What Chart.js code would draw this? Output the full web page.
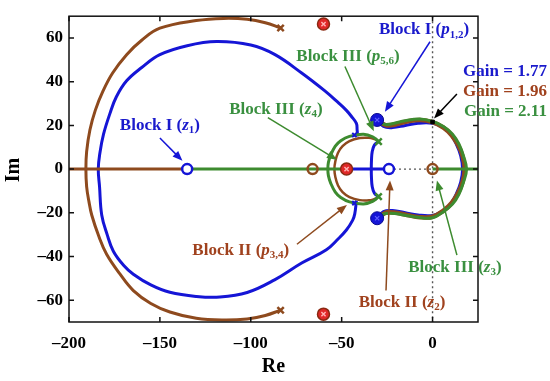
<!DOCTYPE html>
<html>
<head>
<meta charset="utf-8">
<script src="https://cdn.jsdelivr.net/npm/chart.js@4.4.0/dist/chart.umd.min.js"></script>
<style>
  html, body { margin: 0; padding: 0; background: #fff; }
</style>
</head>
<body>
<canvas id="rlocus" width="550" height="381"></canvas>
<script>
// axis ticks
var xTicks = [-200, -150, -100, -50, 0];
var yTicks = [-60, -40, -20, 0, 20, 40, 60];

// Gain = 1.77 (blue)
var blueLoop = [[-41.2,15],[-41.5,18],[-41.9,20.9],[-44.7,24.2],[-47.4,26.9],[-52,30.5],[-59.4,35.9],[-72,44],[-86.9,52.5],[-100,56.8],[-118.8,58.4],[-135,56.5],[-150,52.4],[-160,46.5],[-168.3,40.4],[-174,33],[-177.5,25.4],[-181,16],[-183,7.4],[-183.9,0],
  [-183.2,-8],[-182,-21],[-179,-30],[-175.6,-37.6],[-170,-44],[-164.6,-48.1],[-155,-53],[-144.5,-56.4],[-130,-58.3],[-117,-58.6],[-102,-56.5],[-86.9,-50.7],[-72,-43],[-58.4,-36.9],[-52,-32],[-47.4,-27.9],[-44,-23.5],[-42.8,-20.5],[-41.9,-14.5]];
var blueInner = [[-29.7,12.6],[-32,11],[-33.2,8],[-33.6,4],[-33.7,0],[-33.6,-4],[-33.2,-8],[-32,-11],[-29.7,-12.6]];
var blueAxis = [[-47.3,0],[-24,0]];
var blueRight = [[-30.5,22.5],[-27,19.5],[-22,19],[-15,20],[-8,21],[0,21],[5,19.5],[9.5,16.5],[13,11.5],[15.5,6],[16.5,0],
  [15.5,-6],[13,-11.5],[9.5,-16.5],[5,-19.5],[0,-21.2],[-8,-21],[-15,-20],[-22,-19],[-27,-19.5],[-30.5,-22.5]];

// Gain = 1.96 (brown)
var brownOuter = [[-83.6,64.6],[-92,67],[-102,68.6],[-115,69],[-130,68],[-150,64.5],[-160,59],[-168.3,52.4],[-176,44],[-181.2,35.9],[-185.5,27],[-188.5,17.9],[-190.3,8],[-190.7,0],
  [-190.3,-8],[-189,-15],[-187.5,-21],[-183.5,-31],[-179.3,-39],[-172,-48],[-164.6,-55.6],[-155,-61.5],[-144.5,-65.4],[-130,-68.3],[-115,-69.1],[-102,-68.6],[-92,-67],[-83.6,-64.6]];
var brownInner = [[-31,13.5],[-35,14.3],[-40,14.2],[-45.7,12.8],[-49.5,10.5],[-52,7.5],[-53.5,3.5],[-54,0],[-53.5,-3.5],[-52,-7.5],[-49.5,-10.5],[-45.7,-12.8],[-40,-14.2],[-35,-14.3],[-31,-13.5]];
var brownAxis = [[-200,0],[-135,0]];
var brownRight = [[-28,21],[-25,20],[-20,20.5],[-14,21.8],[-7,22.5],[0,21.5],[6,19],[10.5,15.5],[14,11],[16.5,6],[17.7,0],
  [16.5,-6],[14,-11],[10.5,-15.5],[6,-19],[0,-21.8],[-7,-22],[-14,-21],[-20,-20],[-25,-19.8],[-28,-21]];

// Gain = 2.11 (green)
var greenInner = [[-29.7,12.6],[-33,14.8],[-38,16],[-45.7,15],[-50.5,13],[-53.5,10.5],[-56,6.5],[-57.3,3],[-57.6,0],[-57.3,-3],[-56,-6.5],[-53.5,-10.5],[-50.5,-13],[-45.7,-15],[-38,-16],[-33,-14.8],[-29.7,-12.6]];
var greenAxisA = [[-135,0],[-47.3,0]];
var greenAxisB = [[0,0],[25,0]];
var greenRight = [[-28,21],[-25.5,20.4],[-21,21],[-16,22],[-7,22.9],[0,21.8],[6,19.5],[11,16],[14.5,11.5],[17,6],[18.7,0],
  [17,-6],[14.5,-11.5],[11,-16],[6,-19.5],[0,-22.3],[-7,-22.2],[-16,-21],[-21,-20.3],[-25.5,-20.3],[-28,-21]];

// poles and zeros
var blueZeros = [[-135,0],[-24,0]];
var bluePoles = [[-30.5,22.5],[-30.5,-22.5]];
var bluePolesSmall = [[-43,15.6],[-43,-15.6]];
var brownZeros = [[-66,0],[0,0]];
var brownPoles = [[-83.6,64.6],[-83.6,-64.6]];
var redPoints = [[-47.3,0],[-60,66.4],[-60,-66.4]];
var greenPoles = [[-29.7,12.6],[-29.7,-12.6]];
var gainPoint = [[0,21.6]];

var BLUE = '#1515D6', BROWN = '#8E4A1E', GREEN = '#3D8B2F';
var BLUE_T = '#1a1acc', BROWN_T = '#a0421e', GREEN_T = '#3a9040';
var SERIF = '"Liberation Serif", "Times New Roman", serif';

function pts(a) { return a.map(function (p) { return { x: p[0], y: p[1] }; }); }

function curve(arr, color, width, order) {
  return { data: pts(arr), showLine: true, borderColor: color, borderWidth: width,
    pointRadius: 0, tension: 0.4, fill: false, order: order };
}
function marks(arr, style, r, fillC, lineC, width, order) {
  return { data: pts(arr), showLine: false, pointStyle: style, pointRadius: r,
    backgroundColor: fillC, borderColor: lineC, pointBorderWidth: width, order: order };
}

// annotations
var notes = [
  { runs: [['Block I (','n'],['z','i'],['1','s'],[')','n']], at: [-150,20], color: BLUE_T, arrow: [-150,14.2,-137.6,3.8], ac: BLUE },
  { runs: [['Block I (','n'],['p','i'],['1,2','s'],[')','n']], at: [-4.7,63.7], color: BLUE_T, arrow: [-1.4,58.3,-26.2,26.3], ac: BLUE },
  { runs: [['Block III (','n'],['p','i'],['5,6','s'],[')','n']], at: [-46.5,51.5], color: GREEN_T, arrow: [-48.2,47,-32.3,17.3], ac: GREEN },
  { runs: [['Block III (','n'],['z','i'],['4','s'],[')','n']], at: [-86.2,27.2], color: GREEN_T, arrow: [-90.6,23.6,-52.6,4.3], ac: GREEN },
  { runs: [['Block II (','n'],['p','i'],['3,4','s'],[')','n']], at: [-105.5,-37.1], color: BROWN_T, arrow: [-74.6,-34.4,-47.1,-16.4], ac: BROWN },
  { runs: [['Block II (','n'],['z','i'],['2','s'],[')','n']], at: [-16.8,-61], color: BROWN_T, arrow: [-25.6,-55.6,-23.4,-5.2], ac: BROWN },
  { runs: [['Block III (','n'],['z','i'],['3','s'],[')','n']], at: [12.3,-45.2], color: GREEN_T, arrow: [13.4,-39.4,2.4,-5.2], ac: GREEN },
  { runs: [['Gain = 1.77','n']], at: [62.9,44.8], align: 'right', color: BLUE_T },
  { runs: [['Gain = 1.96','n']], at: [62.9,35.3], align: 'right', color: BROWN_T },
  { runs: [['Gain = 2.11','n']], at: [62.9,26.3], align: 'right', color: GREEN_T, arrow: [13.4,34.4,0.8,23.2], ac: '#000' }
];

function fontFor(kind, size) {
  if (kind === 'i') return 'italic bold ' + size + 'px ' + SERIF;
  if (kind === 's') return 'bold ' + Math.round(size * 0.65) + 'px ' + SERIF;
  return 'bold ' + size + 'px ' + SERIF;
}

function richText(ctx, runs, x, y, align, color, size) {
  var total = 0, widths = [];
  runs.forEach(function (r) { ctx.font = fontFor(r[1], size); var w = ctx.measureText(r[0]).width; widths.push(w); total += w; });
  var cx = align === 'right' ? x - total : x - total / 2;
  ctx.fillStyle = color;
  ctx.textBaseline = 'middle';
  ctx.textAlign = 'left';
  runs.forEach(function (r, i) {
    ctx.font = fontFor(r[1], size);
    ctx.fillText(r[0], cx, r[1] === 's' ? y + size * 0.28 : y);
    cx += widths[i];
  });
}

function arrow(ctx, x1, y1, x2, y2, color) {
  var ang = Math.atan2(y2 - y1, x2 - x1), hl = 10, hw = 4;
  ctx.strokeStyle = color; ctx.fillStyle = color; ctx.lineWidth = 1.5;
  ctx.beginPath();
  ctx.moveTo(x1, y1);
  ctx.lineTo(x2 - Math.cos(ang) * hl * 0.8, y2 - Math.sin(ang) * hl * 0.8);
  ctx.stroke();
  ctx.beginPath();
  ctx.moveTo(x2, y2);
  ctx.lineTo(x2 - Math.cos(ang) * hl + Math.sin(ang) * hw, y2 - Math.sin(ang) * hl - Math.cos(ang) * hw);
  ctx.lineTo(x2 - Math.cos(ang) * hl - Math.sin(ang) * hw, y2 - Math.sin(ang) * hl + Math.cos(ang) * hw);
  ctx.closePath();
  ctx.fill();
}

var deco = {
  id: 'deco',
  beforeDatasetsDraw: function (chart) {
    var ctx = chart.ctx, a = chart.chartArea, xs = chart.scales.x, ys = chart.scales.y;
    ctx.save();
    ctx.strokeStyle = '#555';
    ctx.lineWidth = 1.4;
    ctx.setLineDash([2, 3]);
    var x0 = xs.getPixelForValue(0), y0 = ys.getPixelForValue(0);
    ctx.beginPath(); ctx.moveTo(x0, a.top); ctx.lineTo(x0, a.bottom); ctx.stroke();
    ctx.beginPath(); ctx.moveTo(a.left, y0); ctx.lineTo(a.right, y0); ctx.stroke();
    ctx.restore();
  },
  afterDatasetsDraw: function (chart) {
    var ctx = chart.ctx, a = chart.chartArea, xs = chart.scales.x, ys = chart.scales.y;
    ctx.save();
    // frame and inward ticks
    ctx.strokeStyle = '#111';
    ctx.lineWidth = 1.5;
    ctx.strokeRect(a.left, a.top, a.right - a.left, a.bottom - a.top);
    ctx.beginPath();
    xTicks.forEach(function (v) {
      var px = xs.getPixelForValue(v);
      ctx.moveTo(px, a.bottom); ctx.lineTo(px, a.bottom - 5);
      ctx.moveTo(px, a.top); ctx.lineTo(px, a.top + 5);
    });
    yTicks.forEach(function (v) {
      var py = ys.getPixelForValue(v);
      ctx.moveTo(a.left, py); ctx.lineTo(a.left + 5, py);
      ctx.moveTo(a.right, py); ctx.lineTo(a.right - 5, py);
    });
    ctx.stroke();

    // annotations
    notes.forEach(function (n) {
      if (n.arrow) {
        arrow(ctx, xs.getPixelForValue(n.arrow[0]), ys.getPixelForValue(n.arrow[1]),
          xs.getPixelForValue(n.arrow[2]), ys.getPixelForValue(n.arrow[3]), n.ac);
      }
      richText(ctx, n.runs, xs.getPixelForValue(n.at[0]), ys.getPixelForValue(n.at[1]), n.align || 'center', n.color, 17);
    });

    // axis titles
    ctx.fillStyle = '#000';
    ctx.font = 'bold 20px ' + SERIF;
    ctx.textAlign = 'center';
    ctx.textBaseline = 'middle';
    ctx.fillText('Re', (a.left + a.right) / 2, 367);
    ctx.translate(14, (a.top + a.bottom) / 2 + 1);
    ctx.rotate(-Math.PI / 2);
    ctx.fillText('Im', 0, 0);
    ctx.restore();
  }
};

var tickFont = { family: SERIF, weight: 'bold', size: 17 };
function fmt(v) { return v < 0 ? '\u2013' + Math.abs(v) : '' + v; }

new Chart(document.getElementById('rlocus'), {
  type: 'scatter',
  data: {
    datasets: [
      marks(gainPoint, 'rect', 2.5, '#000', '#000', 1, 0),
      marks(redPoints, 'crossRot', 3, '#ffb0b0', '#ffb0b0', 1.5, 0),
      marks(redPoints, 'circle', 6, '#e02828', '#8a2a12', 1.5, 1),
      marks(blueZeros, 'circle', 5, '#fff', BLUE, 2.5, 1),
      marks(bluePoles, 'crossRot', 3, '#6060ff', '#6060ff', 1.2, 0),
      marks(bluePoles, 'circle', 6.5, BLUE, '#0a0a90', 1, 1),
      marks(bluePolesSmall, 'crossRot', 3, BLUE, BLUE, 2, 1),
      marks(brownZeros, 'circle', 5, 'rgba(255,255,255,0)', BROWN, 2.5, 1),
      marks(brownPoles, 'crossRot', 4.5, BROWN, BROWN, 2.5, 1),
      marks(greenPoles, 'crossRot', 4.5, GREEN, GREEN, 2.5, 1),
      curve(blueAxis, BLUE, 3, 3),
      curve(greenRight, GREEN, 3, 4),
      curve(brownRight, BROWN, 4.5, 5),
      curve(blueRight, BLUE, 3, 6),
      curve(greenInner, GREEN, 3, 4),
      curve(brownInner, BROWN, 2.5, 5),
      curve(blueInner, BLUE, 3, 6),
      curve(greenAxisA, GREEN, 3, 4),
      curve(greenAxisB, GREEN, 3, 4),
      curve(brownAxis, BROWN, 3, 5),
      curve(brownOuter, BROWN, 3, 5),
      curve(blueLoop, BLUE, 3, 6)
    ]
  },
  options: {
    responsive: false,
    animation: false,
    layout: { padding: { left: 0, right: 72, top: 11, bottom: 0 } },
    plugins: { legend: { display: false }, tooltip: { enabled: false } },
    scales: {
      x: {
        type: 'linear', min: -200, max: 25,
        grid: { display: false, drawTicks: false }, border: { display: false },
        afterBuildTicks: function (s) { s.ticks = xTicks.map(function (v) { return { value: v }; }); },
        afterFit: function (s) { s.height = 59; },
        ticks: { font: tickFont, color: '#000', padding: 11, maxRotation: 0, callback: fmt }
      },
      y: {
        type: 'linear', min: -70, max: 70,
        grid: { display: false, drawTicks: false }, border: { display: false },
        afterBuildTicks: function (s) { s.ticks = yTicks.map(function (v) { return { value: v }; }); },
        afterFit: function (s) { s.width = 69; },
        ticks: { font: tickFont, color: '#000', padding: 6, callback: fmt }
      }
    }
  },
  plugins: [deco]
});
</script>
</body>
</html>
